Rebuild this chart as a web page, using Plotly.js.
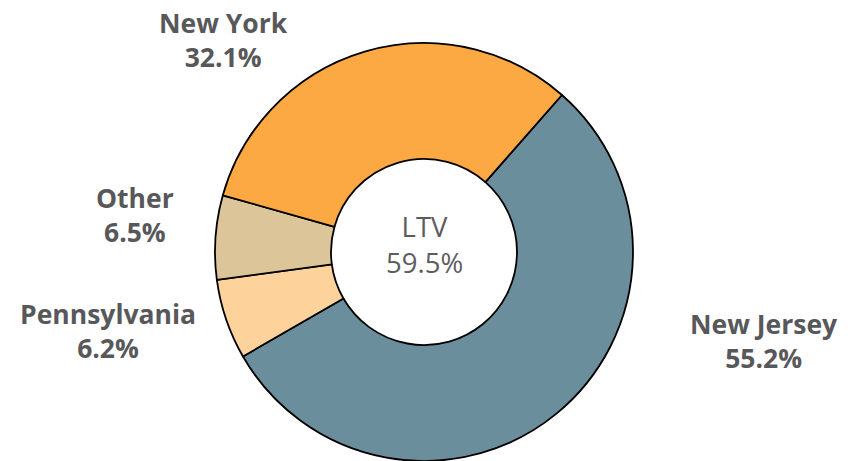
<!DOCTYPE html>
<html>
<head>
<meta charset="utf-8">
<script src="https://cdn.plot.ly/plotly-3.0.1.min.js"></script>
<style>html,body{margin:0;padding:0;background:#fff;}#chart{width:856px;height:461px;}</style>
</head>
<body>
<div id="chart"></div>
<script>
const states = ["New Jersey", "Pennsylvania", "Other", "New York"];
const shares = [55.2, 6.2, 6.5, 32.1];
const sliceColors = ["#6b8e9d", "#fdd29b", "#dcc699", "#fca843"];
const centerTitle = "LTV";
const centerValue = 59.5;

// label anchor positions (paper coords), kept apart from the data
const labelPos = [
  {x: 764/856, y: 1 - 341/461},
  {x: 108/856, y: 1 - 331/461},
  {x: 135/856, y: 1 - 215/461},
  {x: 223/856, y: 1 - 40/461}
];

const cx = 424, cy = 252, R = 209, W = 856, H = 461;

const trace = {
  type: "pie",
  labels: states,
  values: shares,
  sort: false,
  direction: "clockwise",
  rotation: 41.3,
  hole: 0.445,
  textinfo: "none",
  hoverinfo: "label+percent",
  marker: {colors: sliceColors, line: {color: "#000000", width: 1.8}},
  domain: {x: [(cx - R)/W, (cx + R)/W], y: [1 - (cy + R)/H, 1 - (cy - R)/H]},
  showlegend: false
};

const annotations = states.map((s, i) => ({
  x: labelPos[i].x, y: labelPos[i].y, xref: "paper", yref: "paper",
  xanchor: "center", yanchor: "middle", showarrow: false,
  text: "<b>" + s + "</b><br><b>" + shares[i].toFixed(1) + "%</b>",
  font: {family: "Open Sans", size: 26.5, color: "#58585b"}
}));
annotations.push({
  x: cx/W, y: 1 - 244/H, xref: "paper", yref: "paper",
  xanchor: "center", yanchor: "middle", showarrow: false,
  text: centerTitle + "<br>" + centerValue.toFixed(1) + "%",
  font: {family: "Open Sans", size: 27.5, color: "#5d5d60"}
});

const layout = {
  width: W, height: H,
  margin: {l: 0, r: 0, t: 0, b: 0},
  paper_bgcolor: "#ffffff",
  annotations: annotations
};

Plotly.newPlot("chart", [trace], layout, {displayModeBar: false, staticPlot: true});
</script>
</body>
</html>
